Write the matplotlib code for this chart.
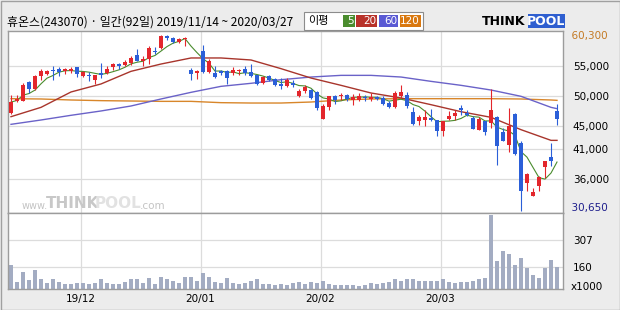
import matplotlib
matplotlib.use("Agg")
import matplotlib.pyplot as plt
from matplotlib.patches import Rectangle
import numpy as np
import pandas as pd

# ---------------- data ----------------
title = "휴온스(243070) · 일간(92일) 2019/11/14 ~ 2020/03/27"
month_labels = ["19/12", "20/01", "20/02", "20/03"]
month_start_idx = [12, 32, 52, 72]

opens = [47100, 49050, 49200, 52350, 51200, 53300, 53750, 54350, 54600, 54150,
         54250, 54800, 53300, 53550, 52700, 53800, 53850, 54850, 55350, 55250,
         55550, 56950, 55800, 56250, 57600, 58050, 60050, 59750, 59000, 59600,
         54400, 53800, 57500, 54000, 53850, 54150, 54250, 53850, 54150, 54600,
         54000, 53450, 52100, 53300, 52850, 52000, 51600, 52150, 50050, 50850,
         50950, 50650, 46150, 48100, 50050, 50050, 50100, 49350, 49250, 49800,
         49500, 49800, 49650, 48800, 48050, 49900, 50200, 47300, 45800, 46000,
         46250, 45850, 44000, 46150, 46600, 47950, 47050, 46250, 44300, 45700,
         45400, 46400, 43900, 41750, 46950, 42050, 35300, 33200, 34750, 38050,
         39750, 47500]
highs = [50200, 50200, 52150, 52550, 53550, 54600, 54400, 54950, 54800, 54700,
         54800, 54900, 54250, 54000, 53550, 55550, 54950, 55600, 55600, 56100,
         56650, 57900, 56650, 58450, 58150, 60200, 60300, 59850, 59750, 59850,
         54700, 54400, 58500, 56250, 54950, 54400, 54400, 54800, 54600, 54950,
         55350, 53550, 53300, 53550, 53000, 53000, 53000, 52700, 51200, 51750,
         51200, 50750, 48600, 50050, 50200, 50500, 50300, 50300, 50500, 50200,
         50500, 50050, 49900, 49050, 50750, 51900, 50650, 48050, 46700, 47650,
         47850, 46000, 45800, 47500, 47650, 48500, 47650, 46550, 46400, 45800,
         51150, 46550, 44600, 47950, 47100, 42350, 37000, 34450, 36450, 39050,
         42050, 48600]
lows = [46950, 48950, 49050, 50500, 51050, 52700, 53450, 52700, 53300, 53700,
        53850, 53100, 53100, 52450, 52050, 53000, 53750, 54400, 54450, 54950,
        55250, 55800, 54950, 55400, 57050, 57950, 59450, 58900, 58900, 58350,
        52700, 52900, 53850, 53850, 53000, 53550, 52000, 53550, 53550, 53550,
        53100, 51750, 52000, 52450, 51600, 51200, 51450, 51450, 49750, 50500,
        49500, 47650, 46100, 47650, 48600, 49350, 49200, 48500, 49050, 49200,
        49200, 49350, 48500, 47950, 47950, 49650, 47950, 45150, 45050, 45000,
        45800, 43200, 43200, 46000, 45950, 46700, 46550, 44400, 44250, 43450,
        44600, 38400, 42350, 40550, 40100, 30650, 34000, 33050, 34000, 36150,
        38100, 45150]
closes = [48950, 49500, 51900, 51200, 53300, 54250, 54250, 54150, 54000, 54450,
          54450, 53700, 53950, 53400, 53450, 53550, 54600, 55350, 54950, 55650,
          56400, 55950, 56200, 58050, 57400, 60100, 59750, 59050, 59600, 59750,
          53750, 54250, 53950, 55800, 53100, 53850, 53000, 54400, 54350, 53850,
          53300, 52050, 53100, 52700, 51750, 51600, 52700, 51750, 50850, 51450,
          49650, 47950, 48350, 49900, 49350, 50200, 49450, 49850, 50050, 49600,
          49850, 49450, 48600, 48050, 50400, 50650, 48250, 45300, 46400, 46500,
          46000, 44000, 45700, 46550, 47100, 47600, 46750, 44450, 46150, 43900,
          47650, 41500, 42450, 44850, 40200, 34000, 36850, 33800, 36250, 38950,
          39100, 46150]
volumes = [169, 74, 128, 86, 140, 93, 68, 90, 73, 64,
           62, 68, 68, 64, 68, 90, 68, 64, 66, 73,
           90, 90, 68, 95, 62, 105, 90, 79, 68, 105,
           105, 79, 125, 100, 73, 68, 98, 68, 64, 68,
           79, 92, 64, 64, 58, 64, 58, 68, 73, 66,
           73, 68, 79, 62, 58, 58, 58, 58, 55, 58,
           68, 62, 68, 73, 90, 83, 90, 92, 83, 83,
           83, 79, 90, 73, 68, 73, 73, 79, 90, 95,
           448, 194, 246, 230, 168, 210, 152, 114, 98, 152,
           198, 160]

ma_idx = [0, 5, 10, 15, 20, 25, 30, 35, 40, 45, 50, 55, 60, 65, 70, 75, 80, 85, 90, 91]
ma20 = [46490, 48060, 50650, 52000, 54130, 55360, 56380, 56380, 56040, 54580,
        53000, 51770, 50480, 49640, 48510, 47330, 46380, 44300, 42500, 42500]
ma60 = [45200, 45930, 46720, 47450, 48290, 49470, 50590, 51600, 52110, 52720,
        53170, 53450, 53450, 53170, 52440, 51770, 50980, 49920, 48060, 47840]
ma120 = [49520, 49470, 49300, 49190, 49130, 49070, 49070, 48850, 48790, 48790,
         48960, 49300, 49470, 49520, 49520, 49520, 49520, 49470, 49300, 49240]

price_ticks = [55000, 50000, 45000, 41000, 36000]
price_tick_labels = ["55,000", "50,000", "45,000", "41,000", "36,000"]
vol_ticks = [307, 160]
vol_tick_labels = ["307", "160"]

# ---------------- style ----------------
RED = "#e3262c"
BLUE = "#2b5fd8"
C5, C20, C60, C120 = "#4a8c2e", "#a8352c", "#6a62c8", "#d8862a"
VOLC = "#a3acc2"
GRID = "#dcdcdc"
EDGE = "#9c9c9c"

W, H = 620, 310
def fx(x): return x / W
def fy(y): return 1 - y / H

fig = plt.figure(figsize=(6.2, 3.1), dpi=100, facecolor="#ececec")

L, R = 8, 563
PT, PB, VB = 31.3, 213, 289
axp = fig.add_axes([fx(L), fy(PB), fx(R) - fx(L), fy(PT) - fy(PB)])
axv = fig.add_axes([fx(L), fy(VB), fx(R) - fx(L), fy(PB) - fy(VB)])

n = len(closes)
x = np.arange(n)
o = np.array(opens, float); c = np.array(closes, float)
hi = np.array(highs, float); lo = np.array(lows, float)
cols = np.where(c >= o, RED, BLUE)

for ax in (axp, axv):
    ax.set_facecolor("white")
    ax.set_xlim(-0.5, 92)
    for s in ax.spines.values():
        s.set_color(EDGE)
        s.set_linewidth(1)
    for m in month_start_idx:
        ax.axvline(m - 0.4, color=GRID, lw=0.9, zorder=0)
    ax.set_xticks([])

# price panel
axp.set_ylim(30262, 60873)
axp.set_yticks(price_ticks)
axp.set_yticklabels(price_tick_labels)
axp.yaxis.tick_right()
axp.tick_params(axis="y", length=0, pad=7, labelsize=7.5)
axp.grid(axis="y", color=GRID, lw=0.9, zorder=0)
axp.set_axisbelow(True)

ma5 = pd.Series(c).rolling(5, min_periods=1).mean().values
axp.plot(ma_idx, ma120, color=C120, lw=1.0, zorder=2)
axp.plot(ma_idx, ma60, color=C60, lw=1.0, zorder=2)
axp.plot(ma_idx, ma20, color=C20, lw=1.0, zorder=2)
axp.plot(x, ma5, color=C5, lw=0.8, zorder=2)

axp.vlines(x, lo, hi, colors=cols, lw=0.8, zorder=3)
body_b = np.minimum(o, c)
body_h = np.maximum(np.abs(c - o), 150)
axp.bar(x, body_h, bottom=body_b, width=0.8, color=cols, linewidth=0, zorder=4)

# extreme labels
axp.text(1.0, max(highs), "  60,300", transform=axp.get_yaxis_transform(),
         ha="left", va="center", fontsize=7.5, color="#c47a24")
axp.text(1.0, min(lows), "  30,650", transform=axp.get_yaxis_transform(),
         ha="left", va="center", fontsize=7.5, color="#1e1e8c")
for t in axp.texts:
    t.set_x(1.0)
axp.texts[0].set_position((1.0 + 2 / (R - L), max(highs) - 300))
axp.texts[1].set_position((1.0 + 2 / (R - L), min(lows) + 500))

# volume panel
axv.set_ylim(36, 458)
axv.bar(x, volumes, width=0.75, color=VOLC, linewidth=0, zorder=2)
axv.set_yticks(vol_ticks)
axv.set_yticklabels(vol_tick_labels)
axv.yaxis.tick_right()
axv.tick_params(axis="y", length=0, pad=7, labelsize=7.5)
axv.grid(axis="y", color=GRID, lw=0.9, zorder=0)
axv.set_axisbelow(True)
fig.text(fx(571), fy(287), "x1000", fontsize=7.5, ha="left", va="center")

# month labels
for m, lab in zip(month_start_idx, month_labels):
    xp = L + (m - 0.4 + 0.5) / 92.5 * (R - L)
    fig.text(fx(xp), fy(299), lab, fontsize=7.5, ha="center", va="center")

# title
fig.text(fx(7), fy(22), title, fontsize=8.6, ha="left", va="center",
         family=["Noto Sans CJK KR", "DejaVu Sans"])

# legend box
fig.patches.append(Rectangle((fx(304), fy(29.5)), fx(423) - fx(304), fy(12) - fy(29.5),
                             transform=fig.transFigure, facecolor="white",
                             edgecolor="#8c8c8c", lw=0.8))
fig.text(fx(308), fy(21), "이평", fontsize=8, ha="left", va="center",
         family=["Noto Sans CJK KR", "DejaVu Sans"])
for (x0, x1, col, lab) in [(343, 354.5, C5, "5"), (356, 377, "#b8322a", "20"),
                           (378.5, 398, "#5a5ad4", "60"), (399.5, 420.5, "#d9780f", "120")]:
    fig.patches.append(Rectangle((fx(x0), fy(27)), fx(x1) - fx(x0), fy(15.5) - fy(27),
                                 transform=fig.transFigure, facecolor=col, edgecolor="none"))
    fig.text(fx(x1 - 1), fy(21.5), lab, fontsize=7.5, color="white", ha="right", va="center")

# THINKPOOL logo
fig.text(fx(482), fy(21.5), "THINK", fontsize=9, fontweight="bold", color="black",
         ha="left", va="center")
fig.patches.append(Rectangle((fx(528), fy(28)), fx(565) - fx(528), fy(14) - fy(28),
                             transform=fig.transFigure, facecolor="#2f5fd0", edgecolor="none"))
fig.text(fx(546.5), fy(21.5), "POOL", fontsize=9, fontweight="bold", color="white",
         ha="center", va="center")

# watermark
fig.text(fx(22), fy(206), "www.", fontsize=7, color="#c4c4c4", ha="left", va="center")
fig.text(fx(46), fy(204), "THINK", fontsize=11, fontweight="bold", color="#c8c8c8",
         ha="left", va="center")
fig.text(fx(95), fy(204), "POOL", fontsize=11, fontweight="bold", color="#e2e2e2",
         ha="left", va="center")
fig.text(fx(140), fy(206), ".com", fontsize=7.5, color="#c4c4c4", ha="left", va="center")

# outer frame
fig.patches.append(Rectangle((0.5 / W, 0.5 / H), 1 - 1 / W, 1 - 1 / H,
                             transform=fig.transFigure, facecolor="none",
                             edgecolor="#a0a0a0", lw=1))

fig.savefig("out.png", dpi=100, facecolor=fig.get_facecolor())
